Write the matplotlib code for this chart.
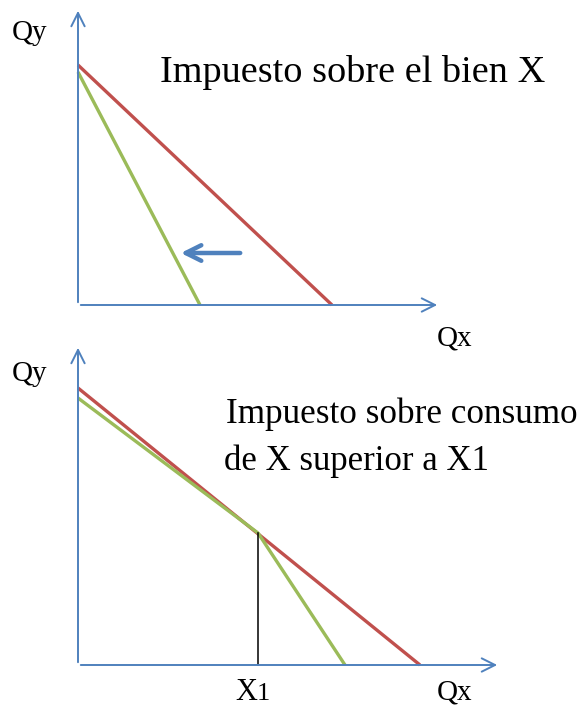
import matplotlib.pyplot as plt

# Budget lines in pixel-like coordinates (x to the right, y downward)
top_origin = (78, 305)
top_y_tip = 8
top_x_tip = 440
top_red = ([78, 332], [65, 305])
top_green = ([78, 200], [72, 305])
top_arrow = ((243, 253), (178, 253))

bot_origin = (78, 665)
bot_y_tip = 345
bot_x_tip = 500
bot_red = ([78, 420], [388, 665])
bot_green = ([78, 258, 345], [398, 533, 665])
x1_pos = 258

RED = '#C0504D'
GREEN = '#9BBB59'
BLUE = '#4F81BD'
FONT = 'Liberation Serif'

fig = plt.figure(figsize=(5.87, 7.11), dpi=100)
ax = fig.add_axes([0, 0, 1, 1])
ax.set_xlim(0, 587)
ax.set_ylim(711, 0)
ax.axis('off')


def draw_axes(origin, y_tip, x_tip):
    ox, oy = origin
    arrow = dict(arrowstyle='->', color=BLUE, lw=1.4, mutation_scale=24)
    ax.annotate('', xy=(ox, y_tip), xytext=(ox, oy), arrowprops=arrow)
    ax.annotate('', xy=(x_tip, oy), xytext=(ox, oy), arrowprops=arrow)


def label(x, y, s, size):
    ax.text(x, y, s, fontsize=size, family=FONT, va='baseline')


# top panel: tax on good X
draw_axes(top_origin, top_y_tip, top_x_tip)
ax.plot(*top_red, color=RED, lw=2.4, solid_capstyle='butt')
ax.plot(*top_green, color=GREEN, lw=2.4, solid_capstyle='butt')
ax.annotate('', xy=top_arrow[1], xytext=top_arrow[0],
            arrowprops=dict(arrowstyle='->', color=BLUE, lw=3.2, mutation_scale=28))
label(12, 40, 'Qy', 21)
label(437, 345, 'Qx', 21)
label(160, 82, 'Impuesto sobre el bien X', 27.5)

# bottom panel: tax on consumption above X1
draw_axes(bot_origin, bot_y_tip, bot_x_tip)
ax.plot(*bot_red, color=RED, lw=2.4, solid_capstyle='butt')
ax.plot(*bot_green, color=GREEN, lw=2.4, solid_capstyle='butt')
ax.plot([x1_pos, x1_pos], [bot_green[1][1], bot_origin[1]], color='black', lw=1.1)
label(12, 381, 'Qy', 21)
label(437, 700, 'Qx', 21)
label(235, 700, 'X', 22)
label(257, 700, '1', 19)
label(226, 423, 'Impuesto sobre consumo', 25.3)
label(224, 470, 'de X superior a X1', 25)

fig.savefig('out.png', dpi=100)
